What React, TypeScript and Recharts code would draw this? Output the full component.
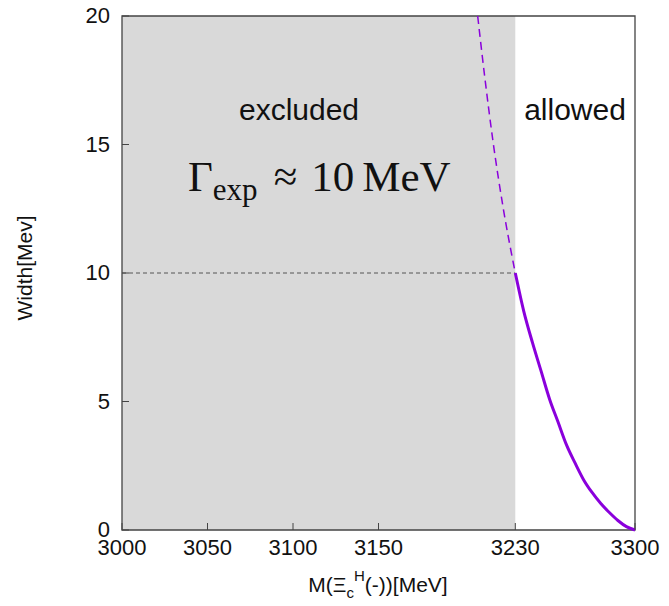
import React from "react";
import {
  LineChart,
  Line,
  XAxis,
  YAxis,
  ReferenceArea,
  ReferenceLine,
} from "recharts";

const massTicks = [3000, 3050, 3100, 3150, 3230, 3300];
const widthTicks = [0, 5, 10, 15, 20];

// solid branch, above threshold (allowed)
const allowedMass = [3230, 3235, 3240, 3245, 3250, 3255, 3260, 3265, 3270, 3275, 3280, 3285, 3290, 3295, 3300];
const allowedWidth = [10, 8.5, 7.3, 6.2, 5.1, 4.2, 3.3, 2.6, 1.95, 1.45, 1.03, 0.68, 0.37, 0.13, 0];

// dashed branch, below threshold (excluded)
const excludedMass = [3208, 3212, 3217, 3223, 3230];
const excludedWidth = [20, 17.7, 15.1, 12.5, 10];

const threshold = 3230;
const gammaExp = 10;

const sans = "'Liberation Sans', Arial, sans-serif";
const serif = "'Liberation Serif', 'DejaVu Serif', serif";
const purple = "#8a00dc";

const allowedData = allowedMass.map((m, i) => ({ m, w: allowedWidth[i] }));
const excludedData = excludedMass.map((m, i) => ({ m, w: excludedWidth[i] }));

const XTick = (props: any) => {
  const { x, y, payload } = props;
  return (
    <g>
      <line x1={x} y1={y} x2={x} y2={y - 7} stroke="#444" strokeWidth={1} />
      <text x={x} y={y + 25} textAnchor="middle" fontSize={22} fontFamily={sans} fill="#111">
        {payload.value}
      </text>
    </g>
  );
};

const YTickLeft = (props: any) => {
  const { x, y, payload } = props;
  return (
    <g>
      <line x1={x} y1={y} x2={x + 7} y2={y} stroke="#444" strokeWidth={1} />
      <text x={x - 12} y={y + 7} textAnchor="end" fontSize={22} fontFamily={sans} fill="#111">
        {payload.value}
      </text>
    </g>
  );
};

const YTickRight = (props: any) => {
  const { x, y } = props;
  return <line x1={x} y1={y} x2={x - 7} y2={y} stroke="#444" strokeWidth={1} />;
};

// region labels, drawn on top of the frame
const Annotations = () => (
  <g>
    <text x={299} y={120} textAnchor="middle" fontSize={30} fontFamily={sans} fill="#111">
      excluded
    </text>
    <text x={575} y={120} textAnchor="middle" fontSize={30} fontFamily={sans} fill="#111">
      allowed
    </text>
    <text x={188} y={191} fontSize={43} fontFamily={serif} fill="#111">
      Γ
      <tspan fontSize={31} dy={9}>exp</tspan>
      <tspan dy={-9} dx={16}>≈</tspan>
      <tspan dx={14}>10</tspan>
      <tspan dx={8}>MeV</tspan>
    </text>
  </g>
);

export default function App() {
  return (
    <div style={{ position: "absolute", left: 0, top: 0, background: "#fff" }}>
      <LineChart
        width={669}
        height={606}
        margin={{ top: 16, right: 0, left: 0, bottom: 0 }}
      >
        <XAxis
          dataKey="m"
          type="number"
          domain={[3000, 3300]}
          ticks={massTicks}
          height={76}
          axisLine={false}
          tickLine={false}
          tickSize={0}
          tickMargin={0}
          tick={<XTick />}
          interval={0}
        />
        <YAxis
          yAxisId="left"
          domain={[0, 20]}
          ticks={widthTicks}
          width={122}
          axisLine={false}
          tickLine={false}
          tickSize={0}
          tickMargin={0}
          tick={<YTickLeft />}
          interval={0}
        />
        <YAxis
          yAxisId="right"
          orientation="right"
          domain={[0, 20]}
          ticks={widthTicks}
          width={34}
          axisLine={false}
          tickLine={false}
          tickSize={0}
          tickMargin={0}
          tick={<YTickRight />}
          interval={0}
        />
        <ReferenceArea
          yAxisId="left"
          x1={3000}
          x2={threshold}
          y1={0}
          y2={20}
          fill="#d9d9d9"
          fillOpacity={1}
          stroke="none"
        />
        <ReferenceLine
          yAxisId="left"
          segment={[
            { x: 3000, y: gammaExp },
            { x: threshold, y: gammaExp },
          ]}
          stroke="#555"
          strokeDasharray="4 3"
          strokeWidth={1}
        />
        <Line
          yAxisId="left"
          data={excludedData}
          dataKey="w"
          type="monotone"
          stroke={purple}
          strokeWidth={1.5}
          strokeDasharray="8 5"
          dot={false}
          isAnimationActive={false}
        />
        <Line
          yAxisId="left"
          data={allowedData}
          dataKey="w"
          type="monotone"
          stroke={purple}
          strokeWidth={3}
          dot={false}
          isAnimationActive={false}
        />
        <ReferenceArea
          yAxisId="left"
          x1={3000}
          x2={3300}
          y1={0}
          y2={20}
          fill="none"
          stroke="#444"
          strokeWidth={1.3}
          label={<Annotations />}
        />
        <text
          x={24}
          y={268}
          transform="rotate(-90 24 268)"
          textAnchor="middle"
          dominantBaseline="central"
          fontSize={21}
          fontFamily={sans}
          fill="#111"
        >
          Width[Mev]
        </text>
        <text x={378} y={592} textAnchor="middle" fontSize={21} fontFamily={sans} fill="#111">
          M(Ξ
          <tspan fontSize={15} dy={6}>c</tspan>
          <tspan fontSize={15} dy={-17}>H</tspan>
          <tspan dy={11}>(-))[MeV]</tspan>
        </text>
      </LineChart>
    </div>
  );
}
